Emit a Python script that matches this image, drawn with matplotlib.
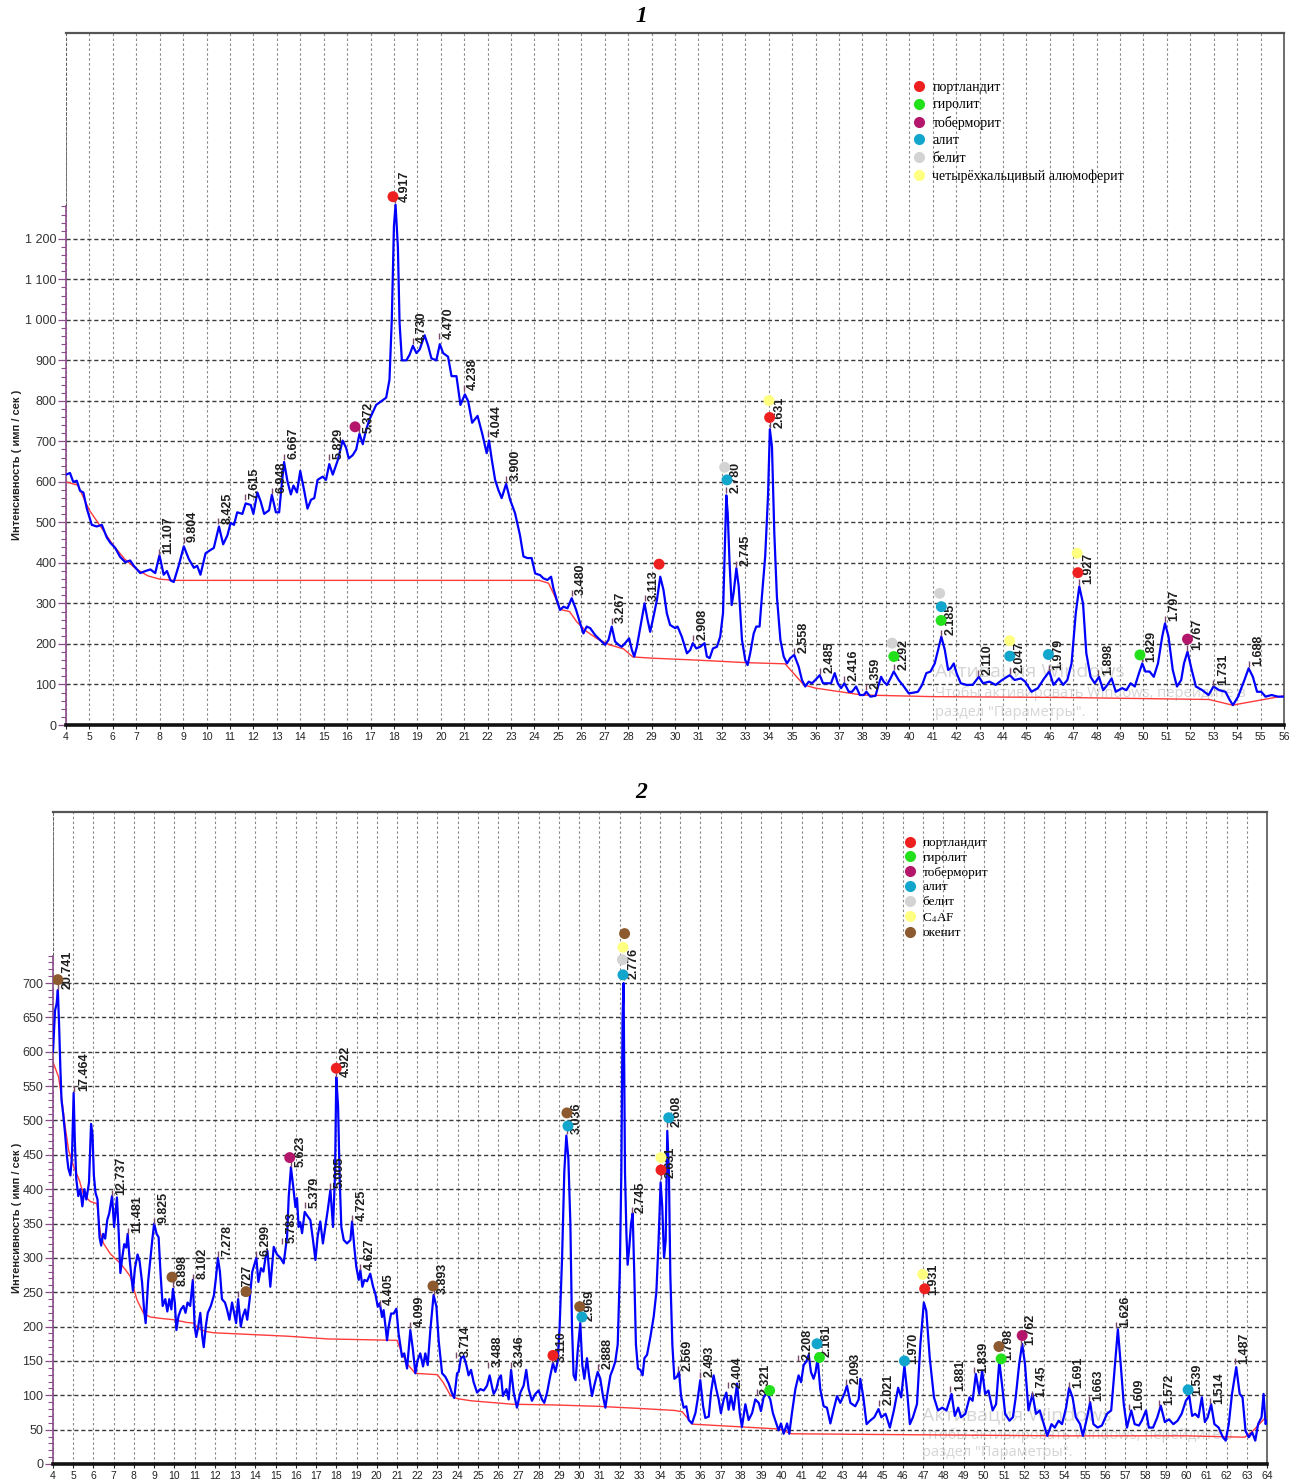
import matplotlib
matplotlib.use("Agg")
import matplotlib.pyplot as plt
from matplotlib.ticker import FixedLocator, FuncFormatter, MultipleLocator
from matplotlib.lines import Line2D

plt.rcParams['font.family'] = ['Liberation Sans', 'DejaVu Sans']
plt.rcParams['mathtext.fontset'] = 'stix'

# ---------------- DATA: chart 1 ----------------
x1 = [4.00, 4.17, 4.31, 4.46, 4.60, 4.74, 4.89, 5.10, 5.31, 5.53, 5.74, 5.89, 6.10, 6.31, 6.53, 6.74,
      6.89, 7.17, 7.39, 7.60, 7.81, 7.99, 8.17, 8.31, 8.46, 8.60, 8.81, 9.03, 9.24, 9.46, 9.60, 9.74,
      9.96, 10.17, 10.31, 10.53, 10.71, 10.89, 11.03, 11.17, 11.31, 11.53, 11.67, 11.89, 12.00, 12.17,
      12.31, 12.46, 12.67, 12.79, 12.96, 13.10, 13.20, 13.31, 13.46, 13.60, 13.71, 13.86, 14.00, 14.17,
      14.31, 14.46, 14.60, 14.74, 14.96, 15.10, 15.24, 15.39, 15.60, 15.81, 15.96, 16.07, 16.24, 16.39,
      16.53, 16.67, 16.81, 16.96, 17.10, 17.24, 17.46, 17.67, 17.81, 17.91, 18.00, 18.07, 18.17, 18.24,
      18.34, 18.53, 18.67, 18.81, 18.96, 19.10, 19.31, 19.46, 19.60, 19.81, 19.96, 20.10, 20.31, 20.46,
      20.67, 20.84, 21.03, 21.17, 21.34, 21.57, 21.77, 21.96, 22.06, 22.17, 22.32, 22.46, 22.60, 22.79,
      22.96, 23.17, 23.38, 23.53, 23.70, 23.88, 24.03, 24.24, 24.38, 24.55, 24.71, 24.81, 24.95, 25.09,
      25.24, 25.41, 25.59, 25.78, 25.95, 26.09, 26.23, 26.38, 26.59, 26.80, 27.02, 27.16, 27.30, 27.44,
      27.59, 27.73, 27.87, 28.04, 28.16, 28.26, 28.37, 28.51, 28.70, 28.83, 28.94, 29.08, 29.23, 29.37,
      29.51, 29.65, 29.79, 30.01, 30.11, 30.29, 30.51, 30.65, 30.76, 30.91, 31.08, 31.26, 31.36, 31.48,
      31.62, 31.79, 31.93, 32.05, 32.13, 32.19, 32.25, 32.33, 32.42, 32.50, 32.62, 32.72, 32.86, 33.00,
      33.10, 33.21, 33.36, 33.47, 33.61, 33.71, 33.85, 33.97, 34.05, 34.14, 34.24, 34.35, 34.50, 34.64,
      34.78, 34.92, 35.09, 35.28, 35.42, 35.56, 35.71, 35.85, 35.99, 36.18, 36.32, 36.49, 36.66, 36.82,
      36.95, 37.09, 37.23, 37.42, 37.56, 37.73, 37.89, 38.06, 38.17, 38.34, 38.56, 38.67, 38.80, 38.91,
      39.05, 39.20, 39.34, 39.55, 39.77, 39.98, 40.19, 40.37, 40.55, 40.73, 40.91, 41.09, 41.23, 41.37,
      41.52, 41.66, 41.77, 41.90, 42.02, 42.20, 42.44, 42.71, 42.97, 43.15, 43.42, 43.69, 43.96, 44.29,
      44.50, 44.77, 44.95, 45.22, 45.49, 45.76, 45.98, 46.16, 46.39, 46.57, 46.75, 46.93, 47.11, 47.26,
      47.42, 47.56, 47.74, 47.92, 48.10, 48.28, 48.46, 48.64, 48.82, 49.09, 49.27, 49.45, 49.63, 49.81,
      49.95, 50.08, 50.26, 50.44, 50.62, 50.80, 50.92, 51.07, 51.25, 51.43, 51.61, 51.73, 51.88, 52.06,
      52.24, 52.51, 52.78, 52.99, 53.23, 53.50, 53.68, 53.82, 54.04, 54.31, 54.49, 54.67, 54.85, 55.03,
      55.21, 55.47, 55.74, 56.00]
y1 = [618, 622, 600, 603, 578, 574, 534, 494, 490, 494, 463, 450, 437, 415, 402, 406,
      393, 375, 380, 384, 375, 419, 371, 380, 357, 353, 393, 441, 410, 388, 393, 371,
      424, 432, 437, 490, 446, 468, 499, 494, 525, 521, 547, 543, 521, 574,
      552, 521, 530, 568, 525, 525, 587, 649, 600, 569, 591, 574, 627, 578,
      534, 556, 560, 605, 613, 605, 644, 618, 653, 702, 684, 658, 666, 680,
      719, 693, 728, 755, 772, 790, 799, 808, 852, 1002, 1231, 1284, 1178, 993,
      900, 900, 914, 936, 918, 927, 962, 936, 905, 900, 940, 918, 909, 861,
      861, 790, 816, 799, 746, 763, 719, 671, 702, 658, 605, 580, 560, 595,
      556, 523, 469, 416, 412, 412, 374, 370, 362, 358, 366, 337, 309, 284,
      292, 288, 313, 284, 251, 226, 243, 239, 222, 210, 198, 210, 243, 206,
      198, 193, 202, 214, 185, 169, 193, 239, 300, 259, 230, 267, 309, 366,
      333, 276, 247, 239, 243, 218, 177, 185, 202, 189, 193, 202, 169, 165,
      189, 193, 218, 276, 440, 567, 523, 399, 296, 325, 387, 342, 210, 160,
      148, 177, 226, 243, 243, 317, 416, 564, 730, 687, 473, 317, 210, 169,
      152, 165, 173, 144, 111, 95, 107, 103, 111, 123, 103, 103, 103, 128,
      103, 91, 103, 82, 82, 95, 74, 74, 82, 70, 72, 95, 119, 107,
      99, 115, 132, 111, 95, 78, 80, 82, 99, 128, 132, 152, 185, 218,
      185, 136, 140, 152, 128, 103, 99, 99, 119, 103, 107, 99, 111, 123,
      111, 115, 107, 82, 91, 115, 132, 99, 115, 99, 111, 152, 276, 342,
      300, 177, 119, 103, 119, 86, 99, 115, 82, 91, 86, 103, 95, 128,
      152, 132, 132, 119, 152, 218, 251, 218, 136, 95, 111, 152, 181, 136,
      95, 86, 74, 95, 86, 82, 62, 49, 70, 111, 140, 119, 82, 82,
      70, 74, 70, 70]
base1_x = [4.0, 4.5, 5.0, 5.5, 6.0, 6.5, 7.0, 7.5, 8.0, 8.6, 24.2, 24.6, 24.85, 25.1, 25.5, 25.8,
           26.2, 26.7, 27.2, 27.8, 28.2, 29.0, 31.0, 33.0, 34.7, 35.5, 36.0, 38.0, 41.0, 46.5, 52.8,
           53.8, 56.0]
base1_y = [600, 592, 530, 488, 445, 410, 385, 368, 360, 357, 357, 350, 320, 285, 280, 255,
           232, 212, 198, 188, 168, 165, 160, 154, 151, 99, 91, 74, 70, 68, 63,
           49, 72]
peak1_lbl = ['11.107', '9.804', '8.425', '7.615', '6.948', '6.667', '5.829', '5.372', '4.917',
             '4.730', '4.470', '4.238', '4.044', '3.900', '3.480', '3.267', '3.113', '2.908',
             '2.780', '2.745', '2.631', '2.558', '2.485', '2.416', '2.359', '2.292', '2.185',
             '2.110', '2.047', '1.979', '1.927', '1.898', '1.829', '1.797', '1.767', '1.731', '1.688']
peak1_x = [7.97, 9.02, 10.5, 11.66, 12.78, 13.3, 15.22, 16.53, 18.05, 18.8, 19.92, 20.98, 22.0,
           22.8, 25.59, 27.3, 28.7, 30.76, 32.19, 32.62, 34.05, 35.09, 36.18, 37.23, 38.17, 39.34,
           41.37, 42.95, 44.3, 45.95, 47.26, 48.08, 49.95, 50.92, 51.88, 52.99, 54.49]
peak1_y = [420, 450, 495, 555, 570, 655, 655, 720, 1288, 940, 952, 825, 710, 600, 318, 250, 305,
           207, 572, 390, 732, 176, 126, 106, 86, 135, 220, 122, 126, 134, 346, 121, 155, 254,
           183, 97, 143]
mark1_x = [17.96, 16.34, 29.32, 32.12, 32.22, 34.01, 34.04, 39.27, 39.34, 41.30, 41.37, 41.36,
           44.29, 44.29, 45.94, 47.17, 47.20, 49.85, 51.88]
mark1_y = [1304, 736, 397, 636, 605, 801, 759, 202, 169, 325, 292, 258, 208, 170, 174, 424, 376,
           173, 212]
mark1_phase = ['portlandite', 'tobermorite', 'portlandite', 'belite', 'alite', 'c4af', 'portlandite',
               'belite', 'gyrolite', 'belite', 'alite', 'gyrolite', 'c4af', 'alite', 'alite', 'c4af',
               'portlandite', 'gyrolite', 'tobermorite']

# ---------------- DATA: chart 2 ----------------
x2 = [4.00, 4.10, 4.18, 4.24, 4.30, 4.36, 4.42, 4.50, 4.60, 4.68, 4.76, 4.86, 4.94, 5.02, 5.08,
      5.15, 5.25, 5.35, 5.45, 5.55, 5.65, 5.78, 5.88, 5.95, 6.02, 6.10, 6.20, 6.30, 6.38, 6.48,
      6.58, 6.68, 6.78, 6.92, 7.02, 7.16, 7.25, 7.33, 7.42, 7.52, 7.62, 7.69, 7.78, 7.88, 7.95,
      8.05, 8.18, 8.28, 8.40, 8.50, 8.58, 8.70, 8.82, 8.92, 9.00, 9.12, 9.22, 9.32, 9.42, 9.55,
      9.65, 9.75, 9.85, 9.93, 10.02, 10.10, 10.20, 10.32, 10.45, 10.55, 10.65, 10.78, 10.91, 11.00,
      11.08, 11.18, 11.28, 11.38, 11.45, 11.55, 11.65, 11.80, 11.95, 12.05, 12.15, 12.25, 12.35,
      12.50, 12.60, 12.72, 12.85, 12.95, 13.05, 13.15, 13.28, 13.38, 13.50, 13.60, 13.72, 13.85,
      13.95, 14.05, 14.15, 14.28, 14.40, 14.50, 14.60, 14.74, 14.91, 15.07, 15.24, 15.40, 15.57,
      15.65, 15.76, 15.89, 15.98, 16.06, 16.14, 16.22, 16.31, 16.44, 16.55, 16.72, 16.85, 16.97,
      17.08, 17.21, 17.34, 17.46, 17.58, 17.71, 17.84, 17.94, 18.00, 18.09, 18.17, 18.25, 18.37,
      18.53, 18.70, 18.78, 18.89, 18.99, 19.11, 19.19, 19.29, 19.39, 19.52, 19.68, 19.82, 19.93,
      20.05, 20.15, 20.26, 20.34, 20.51, 20.59, 20.71, 20.84, 20.97, 21.08, 21.25, 21.36, 21.50,
      21.66, 21.79, 21.91, 22.02, 22.15, 22.29, 22.40, 22.52, 22.65, 22.81, 22.95, 23.06, 23.23,
      23.39, 23.56, 23.72, 23.83, 23.97, 24.05, 24.16, 24.30, 24.43, 24.54, 24.66, 24.79, 24.96,
      25.12, 25.29, 25.45, 25.58, 25.70, 25.78, 25.91, 26.03, 26.14, 26.24, 26.41, 26.52, 26.64,
      26.77, 26.93, 27.10, 27.26, 27.39, 27.51, 27.67, 27.84, 28.00, 28.17, 28.28, 28.42, 28.58,
      28.71, 28.83, 28.94, 29.04, 29.16, 29.27, 29.37, 29.47, 29.57, 29.65, 29.73, 29.83, 29.93,
      30.06, 30.16, 30.26, 30.39, 30.49, 30.64, 30.75, 30.92, 31.05, 31.18, 31.30, 31.41, 31.55,
      31.68, 31.79, 31.91, 32.01, 32.09, 32.15, 32.20, 32.27, 32.34, 32.40, 32.48, 32.57, 32.65,
      32.73, 32.81, 32.91, 33.03, 33.14, 33.23, 33.36, 33.52, 33.69, 33.82, 33.93, 34.03, 34.11,
      34.20, 34.28, 34.36, 34.44, 34.51, 34.61, 34.71, 34.84, 34.94, 35.04, 35.17, 35.30, 35.42,
      35.58, 35.75, 35.86, 35.99, 36.13, 36.24, 36.41, 36.52, 36.65, 36.78, 36.90, 37.01, 37.15,
      37.28, 37.39, 37.51, 37.64, 37.81, 37.94, 38.05, 38.22, 38.38, 38.55, 38.71, 38.88, 38.99,
      39.12, 39.29, 39.45, 39.58, 39.75, 39.86, 39.98, 40.11, 40.28, 40.39, 40.52, 40.69, 40.85,
      40.97, 41.10, 41.23, 41.35, 41.46, 41.59, 41.69, 41.79, 41.92, 42.09, 42.25, 42.42, 42.58,
      42.75, 42.91, 43.11, 43.24, 43.41, 43.65, 43.82, 43.90, 44.05, 44.21, 44.38, 44.59, 44.80,
      44.94, 45.15, 45.36, 45.56, 45.77, 45.92, 46.08, 46.21, 46.35, 46.50, 46.70, 46.87, 47.04,
      47.16, 47.33, 47.54, 47.74, 47.95, 48.16, 48.41, 48.57, 48.74, 48.88, 49.09, 49.30, 49.45,
      49.61, 49.78, 49.92, 50.07, 50.23, 50.44, 50.61, 50.77, 50.92, 51.06, 51.27, 51.44, 51.58,
      51.75, 51.90, 52.04, 52.21, 52.41, 52.58, 52.77, 52.97, 53.14, 53.35, 53.51, 53.70, 53.87,
      54.07, 54.22, 54.39, 54.55, 54.76, 54.90, 55.11, 55.26, 55.42, 55.63, 55.84, 56.09, 56.30,
      56.46, 56.63, 56.77, 56.92, 57.08, 57.29, 57.46, 57.67, 57.81, 58.02, 58.16, 58.37, 58.58,
      58.75, 58.95, 59.16, 59.37, 59.58, 59.78, 59.99, 60.16, 60.30, 60.45, 60.61, 60.78, 60.93,
      61.07, 61.24, 61.40, 61.61, 61.82, 61.96, 62.11, 62.27, 62.48, 62.65, 62.79, 62.94, 63.10,
      63.27, 63.42, 63.56, 63.73, 63.83, 63.93, 64.00]
y2 = [600, 660, 670, 690, 640, 580, 530, 510, 480, 450, 430, 420, 450, 540, 470,
      415, 390, 400, 375, 400, 385, 410, 495, 480, 420, 395, 385, 330, 318, 335,
      328, 355, 365, 390, 345, 388, 335, 278, 300, 320, 315, 335, 300, 272, 252,
      285, 305, 295, 265, 225, 205, 265, 300, 330, 350, 335, 330, 275, 230, 240,
      222, 240, 225, 255, 235, 195, 215, 225, 230, 220, 235, 230, 268, 200,
      185, 200, 220, 185, 170, 200, 220, 230, 245, 270, 300, 280, 240,
      235, 225, 210, 235, 220, 205, 240, 200, 215, 225, 210, 240, 280,
      290, 300, 265, 285, 280, 300, 310, 258, 316, 305, 300, 292, 331,
      389, 432, 399, 374, 387, 345, 352, 336, 367, 362, 355, 326, 297,
      331, 353, 321, 345, 370, 399, 345, 423, 563, 520, 413, 345, 326,
      321, 326, 353, 316, 287, 268, 282, 258, 268, 266, 277, 258, 248,
      229, 234, 214, 224, 180, 200, 219, 219, 226, 190, 156, 161, 139,
      195, 166, 132, 151, 161, 142, 161, 144, 195, 246, 229, 180, 132,
      127, 117, 103, 96, 132, 134, 154, 157, 144, 129, 137, 119, 104,
      109, 107, 114, 129, 112, 102, 109, 124, 129, 99, 109, 94, 137,
      104, 82, 104, 114, 137, 109, 92, 102, 107, 94, 89, 104, 129,
      147, 134, 149, 200, 300, 425, 478, 445, 350, 200, 129, 122, 164,
      205, 144, 124, 154, 129, 99, 114, 134, 124, 99, 82, 104, 129,
      139, 149, 174, 275, 425, 650, 700, 425, 335, 290, 315, 350, 365,
      275, 174, 139, 137, 129, 154, 159, 184, 215, 250, 325, 410, 375,
      300, 325, 485, 425, 275, 174, 124, 127, 134, 99, 82, 84, 64,
      59, 74, 94, 122, 84, 67, 69, 104, 129, 109, 94, 74, 94,
      104, 79, 99, 79, 117, 74, 54, 87, 64, 74, 94, 89, 77,
      97, 104, 94, 74, 59, 49, 59, 44, 59, 44, 74, 109, 129,
      119, 144, 149, 159, 134, 124, 134, 154, 109, 84, 82, 59, 79,
      99, 89, 102, 114, 89, 84, 94, 124, 97, 58, 63, 68, 80,
      68, 73, 53, 78, 111, 97, 143, 107, 58, 68, 87, 175, 235,
      223, 155, 97, 78, 82, 78, 102, 70, 82, 68, 73, 97, 92,
      131, 102, 136, 102, 107, 78, 87, 150, 111, 73, 63, 68, 97,
      145, 175, 145, 78, 102, 73, 78, 58, 41, 58, 53, 63, 58,
      82, 111, 97, 68, 58, 41, 68, 90, 58, 53, 56, 73, 78,
      136, 196, 145, 87, 53, 78, 58, 56, 63, 78, 53, 53, 68,
      85, 61, 65, 58, 63, 73, 92, 99, 70, 73, 68, 97, 61,
      68, 87, 58, 53, 39, 34, 58, 102, 141, 102, 97, 48, 39,
      46, 34, 58, 68, 102, 58, 63]
base2_x = [4.0, 4.28, 4.44, 4.6, 4.77, 5.02, 5.3, 5.52, 5.85, 6.17, 6.34, 6.5, 6.83, 7.33, 7.6,
           7.82, 8.15, 8.48, 8.8, 9.3, 9.96, 10.62, 10.95, 11.2, 11.53, 11.94, 15.6, 17.6, 21.0,
           21.25, 21.5, 21.9, 23.0, 23.3, 23.64, 24.0, 24.67, 26.7, 28.7, 30.9, 32.9, 34.7, 35.1,
           35.6, 39.85, 40.5, 44.6, 53.8, 60.0, 62.9, 63.3, 64.0]
base2_y = [585, 563, 530, 491, 457, 433, 413, 391, 382, 379, 336, 321, 306, 292, 282,
           273, 239, 219, 214, 212, 210, 206, 205, 197, 193, 191, 186, 182, 180,
           161, 146, 132, 130, 118, 100, 95, 92, 87, 86, 84, 81, 78, 76,
           58, 51, 44, 43, 41, 41, 39, 48, 70]
peak2_lbl = ['20.741', '17.464', '12.737', '11.481', '9.825', '8.898', '8.102', '7.278', '6.727',
             '6.299', '5.783', '5.623', '5.379', '5.005', '4.922', '4.725', '4.627', '4.405',
             '4.099', '3.893', '3.714', '3.488', '3.346', '3.110', '3.036', '2.969', '2.888',
             '2.776', '2.745', '2.631', '2.608', '2.569', '2.493', '2.404', '2.321', '2.208',
             '2.161', '2.093', '2.021', '1.970', '1.931', '1.881', '1.839', '1.798', '1.762',
             '1.745', '1.691', '1.663', '1.626', '1.609', '1.572', '1.539', '1.514', '1.487']
peak2_x = [4.26, 5.06, 6.93, 7.69, 9.0, 9.93, 10.91, 12.15, 13.15, 14.05, 15.31, 15.75, 16.47,
           17.71, 18.01, 18.77, 19.17, 20.14, 21.66, 22.82, 23.94, 25.52, 26.62, 28.68, 29.4,
           30.07, 30.94, 32.22, 32.6, 34.05, 34.36, 34.9, 36.0, 37.38, 38.77, 40.84, 41.76, 43.19,
           44.81, 46.03, 47.02, 48.35, 49.53, 50.73, 51.84, 52.39, 54.2, 55.19, 56.55, 57.2,
           58.68, 60.07, 61.16, 62.4]
peak2_y = [690, 542, 390, 335, 350, 258, 268, 302, 243, 302, 320, 432, 372, 400, 563, 353, 282,
           230, 198, 246, 155, 140, 140, 147, 480, 207, 137, 705, 365, 415, 490, 134, 125, 110,
           100, 150, 155, 115, 85, 145, 245, 105, 132, 150, 172, 97, 110, 90, 198, 78, 85, 100,
           87, 145]
mark2_x = [4.24, 9.88, 13.54, 15.70, 18.00, 22.78, 28.71, 29.40, 29.45, 30.03, 30.14, 32.17, 32.14,
           32.17, 32.25, 34.05, 34.05, 34.43, 39.42, 41.76, 41.88, 46.08, 47.08, 46.98, 50.75,
           50.86, 51.90, 60.10]
mark2_y = [705, 272, 251, 446, 576, 259, 158, 511, 492, 229, 214, 712, 734, 752, 772, 428, 446,
           504, 107, 175, 155, 150, 255, 276, 171, 153, 187, 108]
mark2_phase = ['okenite', 'okenite', 'okenite', 'tobermorite', 'portlandite', 'okenite', 'portlandite',
               'okenite', 'alite', 'okenite', 'alite', 'alite', 'belite', 'c4af', 'okenite',
               'portlandite', 'c4af', 'alite', 'gyrolite', 'alite', 'gyrolite', 'alite',
               'portlandite', 'c4af', 'okenite', 'gyrolite', 'tobermorite', 'alite']

legend1 = [('portlandite', 'портландит'), ('gyrolite', 'гиролит'), ('tobermorite', 'тоберморит'),
           ('alite', 'алит'), ('belite', 'белит'), ('c4af', 'четырёхкальцивый алюмоферит')]
legend2 = [('portlandite', 'портландит'), ('gyrolite', 'гиролит'), ('tobermorite', 'тоберморит'),
           ('alite', 'алит'), ('belite', 'белит'), ('c4af', r'C$_{\mathrm{4}}$AF'), ('okenite', 'окенит')]

# ---------------- STYLE ----------------
PHASE_COLORS = {'portlandite': '#ee1f1f', 'gyrolite': '#22e01a', 'tobermorite': '#b3166a',
                'alite': '#12a6cd', 'belite': '#d3d3d3', 'c4af': '#ffff80', 'okenite': '#8c5a2e'}
BLUE = '#0000ff'
RED_BASE = '#ff3b3b'
SPINE_PURPLE = '#8a4d8a'
GRID_V = '#8a8a8a'
GRID_H = '#3a3a3a'

W, H = 1297, 1480
fig = plt.figure(figsize=(W / 100, H / 100), dpi=100)
ax1 = fig.add_axes([66 / W, 1 - 725 / H, 1218 / W, 692 / H])
ax2 = fig.add_axes([53 / W, 1 - 1464 / H, 1214 / W, 652 / H])


def thousands(v, pos):
    return f"{int(v):,}".replace(",", " ")


def style(ax, xmax, ytop, ystep, ygrid_max, yminor_step, purple_top):
    ax.set_xlim(4, xmax)
    ax.set_ylim(0, ytop)
    ax.xaxis.set_major_locator(MultipleLocator(1))
    ax.yaxis.set_major_locator(FixedLocator(list(range(0, ygrid_max + 1, ystep))))
    ax.yaxis.set_minor_locator(FixedLocator(list(range(0, purple_top + 1, yminor_step))))
    ax.yaxis.set_major_formatter(FuncFormatter(thousands))
    ax.set_axisbelow(True)
    ax.xaxis.grid(True, color=GRID_V, ls=(0, (2.2, 2.2)), lw=0.8)
    ax.yaxis.grid(True, color=GRID_H, ls=(0, (3, 2)), lw=1.0)
    ax.tick_params(axis='x', which='major', direction='out', length=3, width=0.8,
                   colors='#222', labelsize=7.5, pad=2)
    ax.tick_params(axis='y', which='major', direction='out', length=6, width=0.9,
                   color=SPINE_PURPLE, labelcolor='#333', labelsize=9, pad=1)
    ax.tick_params(axis='y', which='minor', direction='out', length=3.5, width=0.8,
                   color=SPINE_PURPLE)
    ax.spines['bottom'].set_color('#111')
    ax.spines['bottom'].set_linewidth(2.6)
    ax.spines['left'].set_color(SPINE_PURPLE)
    ax.spines['left'].set_linewidth(1.2)
    ax.spines['left'].set_bounds(0, purple_top)
    ax.axvline(4, ymin=purple_top / ytop, ymax=1, color='#555', lw=1.2, ls=(0, (2, 1)))
    ax.spines['top'].set_color('#555')
    ax.spines['top'].set_linewidth(1.6)
    ax.spines['right'].set_color('#555')
    ax.spines['right'].set_linewidth(1.2)
    ax.spines['right'].set_linestyle((0, (2, 1)))


def draw(ax, xs, ys, bx, by, px, py, plbl, mx, my, mph, legend_items, leg_anchor, leg_fs, leg_sp, wm_pos):
    # watermark (Windows activation overlay)
    wx, wy0, wy1, wy2 = wm_pos
    ax.text(wx, wy0, 'Активация Windows', transform=ax.transAxes, fontsize=14,
            color='#c4c4c4', alpha=0.7, zorder=1, family=['Open Sans', 'DejaVu Sans'])
    ax.text(wx, wy1, 'Чтобы активировать Windows, перейдите в', transform=ax.transAxes, fontsize=10.5,
            color='#c4c4c4', alpha=0.7, zorder=1, family=['Open Sans', 'DejaVu Sans'])
    ax.text(wx, wy2, 'раздел "Параметры".', transform=ax.transAxes, fontsize=10.5,
            color='#c4c4c4', alpha=0.7, zorder=1, family=['Open Sans', 'DejaVu Sans'])
    ax.plot(bx, by, color=RED_BASE, lw=1.0, zorder=2.5)
    ax.plot(xs, ys, color=BLUE, lw=1.6, zorder=3)
    ax.plot(px, py, ls='none', marker=[(0, 0), (0, 1)], ms=9, mec='#7b4b6b', mew=1.0, zorder=3.2)
    for x, y, t in zip(px, py, plbl):
        ax.annotate(t, xy=(x, y), xytext=(6.8, 0.5), textcoords='offset points', rotation=90,
                    ha='center', va='bottom', fontsize=9, fontweight='bold', color='#1e1e1e',
                    zorder=4)
    ax.scatter(mx, my, s=62, c=[PHASE_COLORS[p] for p in mph], edgecolors='none', zorder=5)
    handles = [Line2D([], [], ls='none', marker='o', ms=8, mec='none', mfc=PHASE_COLORS[k])
               for k, _ in legend_items]
    labels = [lab for _, lab in legend_items]
    ax.legend(handles, labels, loc='upper left', bbox_to_anchor=leg_anchor, frameon=False,
              borderaxespad=0, borderpad=0, handlelength=0.9, handletextpad=0.5,
              labelspacing=leg_sp, prop={'family': 'Liberation Serif', 'size': leg_fs})


style(ax1, 56, 1708, 100, 1200, 20, 1280)
style(ax2, 64, 949, 50, 700, 10, 740)

draw(ax1, x1, y1, base1_x, base1_y, peak1_x, peak1_y, peak1_lbl, mark1_x, mark1_y, mark1_phase,
     legend1, ((913 - 66) / 1218, (725 - 81) / 692), 10, 0.32,
     ((935 - 66) / 1218, (725 - 676) / 692, (725 - 697) / 692, (725 - 716) / 692))
draw(ax2, x2, y2, base2_x, base2_y, peak2_x, peak2_y, peak2_lbl, mark2_x, mark2_y, mark2_phase,
     legend2, ((904 - 53) / 1214, (1464 - 837) / 652), 9.5, 0.19,
     ((922 - 53) / 1214, (1464 - 1420) / 652, (1464 - 1439) / 652, (1464 - 1456) / 652))

ylab = 'Интенсивность ( имп / сек )'
fig.text(17 / W, 1 - 465 / H, ylab, rotation=90, ha='center', va='center', fontsize=8,
         fontweight='bold', color='#222')
fig.text(17 / W, 1 - 1218 / H, ylab, rotation=90, ha='center', va='center', fontsize=8,
         fontweight='bold', color='#222')
fig.text(641 / W, 1 - 16 / H, '1', ha='center', va='center', fontsize=17, fontweight='bold',
         fontstyle='italic', family='Liberation Serif')
fig.text(641 / W, 1 - 793 / H, '2', ha='center', va='center', fontsize=17, fontweight='bold',
         fontstyle='italic', family='Liberation Serif')

fig.savefig('out.png', dpi=100)
